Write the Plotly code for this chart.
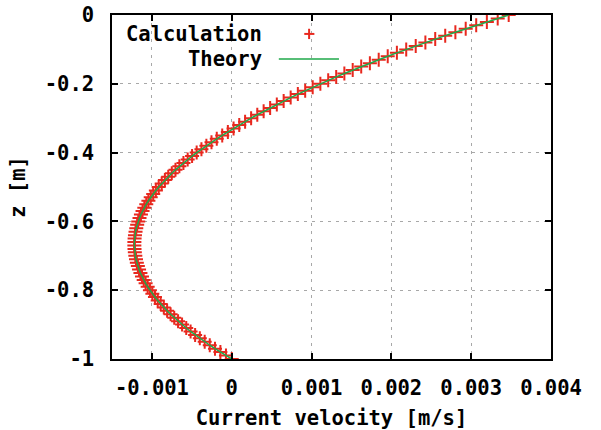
import plotly.graph_objects as go

# depth z [m] (surface = 0, bottom = -1)
depth = [
    0.00, -0.01, -0.02, -0.03, -0.04, -0.05, -0.06, -0.07, -0.08, -0.09,
    -0.10, -0.11, -0.12, -0.13, -0.14, -0.15, -0.16, -0.17, -0.18, -0.19,
    -0.20, -0.21, -0.22, -0.23, -0.24, -0.25, -0.26, -0.27, -0.28, -0.29,
    -0.30, -0.31, -0.32, -0.33, -0.34, -0.35, -0.36, -0.37, -0.38, -0.39,
    -0.40, -0.41, -0.42, -0.43, -0.44, -0.45, -0.46, -0.47, -0.48, -0.49,
    -0.50, -0.51, -0.52, -0.53, -0.54, -0.55, -0.56, -0.57, -0.58, -0.59,
    -0.60, -0.61, -0.62, -0.63, -0.64, -0.65, -0.66, -0.67, -0.68, -0.69,
    -0.70, -0.71, -0.72, -0.73, -0.74, -0.75, -0.76, -0.77, -0.78, -0.79,
    -0.80, -0.81, -0.82, -0.83, -0.84, -0.85, -0.86, -0.87, -0.88, -0.89,
    -0.90, -0.91, -0.92, -0.93, -0.94, -0.95, -0.96, -0.97, -0.98, -0.99,
    -1.00,
]

# current velocity [m/s]
velocity = [
    0.0034700, 0.0033322, 0.0031966, 0.0030630, 0.0029315, 0.0028020, 0.0026747, 0.0025494, 0.0024262, 0.0023051,
    0.0021861, 0.0020692, 0.0019543, 0.0018415, 0.0017308, 0.0016222, 0.0015157, 0.0014112, 0.0013089, 0.0012086,
    0.0011104, 0.0010143, 0.0009202, 0.0008283, 0.0007384, 0.0006506, 0.0005649, 0.0004813, 0.0003997, 0.0003203,
    0.0002429, 0.0001676, 0.0000944, 0.0000232, -0.0000483, -0.0001190, -0.0001874, -0.0002536, -0.0003177, -0.0003795,
    -0.0004392, -0.0004967, -0.0005519, -0.0006050, -0.0006559, -0.0007046, -0.0007510, -0.0007953, -0.0008374, -0.0008773,
    -0.0009150, -0.0009505, -0.0009838, -0.0010149, -0.0010438, -0.0010706, -0.0010951, -0.0011174, -0.0011375, -0.0011555,
    -0.0011712, -0.0011847, -0.0011961, -0.0012052, -0.0012122, -0.0012170, -0.0012195, -0.0012199, -0.0012180, -0.0012140,
    -0.0012078, -0.0011994, -0.0011888, -0.0011760, -0.0011610, -0.0011438, -0.0011244, -0.0011028, -0.0010790, -0.0010530,
    -0.0010248, -0.0009944, -0.0009618, -0.0009271, -0.0008901, -0.0008510, -0.0008096, -0.0007660, -0.0007203, -0.0006723,
    -0.0006222, -0.0005699, -0.0005153, -0.0004586, -0.0003997, -0.0003386, -0.0002752, -0.0002097, -0.0001420, -0.0000721,
    0.0000000,
]

x_tickvals = [-0.001, 0, 0.001, 0.002, 0.003, 0.004]
x_ticktext = ["-0.001", "0", "0.001", "0.002", "0.003", "0.004"]
y_tickvals = [0, -0.2, -0.4, -0.6, -0.8, -1]
y_ticktext = ["0", "-0.2", "-0.4", "-0.6", "-0.8", "-1"]

RED = "#e8281e"
GREEN = "#1fa84a"
FONT = dict(family="DejaVu Sans Mono", size=20.5, color="black", weight="bold")

fig = go.Figure()
fig.add_trace(go.Scatter(
    x=velocity, y=depth, mode="markers", name="Calculation",
    marker=dict(symbol="cross-thin", size=10, line=dict(color=RED, width=2)),
))
fig.add_trace(go.Scatter(
    x=velocity, y=depth, mode="lines", name="Theory",
    line=dict(color=GREEN, width=1.5),
))

axis_common = dict(
    showline=True, linecolor="black", linewidth=1.5, mirror="ticks",
    ticks="inside", ticklen=6, tickwidth=1.5, tickcolor="black",
    showgrid=True, gridcolor="#a8a8a8", gridwidth=1.2, griddash="3px,5px",
    zeroline=False, tickfont=FONT, automargin=False,
)

fig.update_xaxes(
    range=[-0.0015, 0.004], tickvals=x_tickvals, ticktext=x_ticktext,
    title=dict(text="Current velocity [m/s]", font=FONT, standoff=14),
    ticklabelstandoff=10,
    **axis_common,
)
fig.update_yaxes(
    range=[-1, 0], tickvals=y_tickvals, ticktext=y_ticktext,
    title=dict(text="z [m]", font=FONT, standoff=14),
    ticklabelstandoff=12,
    **axis_common,
)

# gnuplot-style legend (text on the left, sample on the right)
fig.add_annotation(xref="paper", yref="paper", x=0.346, y=0.945, text="Calculation",
                   showarrow=False, xanchor="right", yanchor="middle", font=FONT)
fig.add_annotation(xref="paper", yref="paper", x=0.346, y=0.872, text="Theory",
                   showarrow=False, xanchor="right", yanchor="middle", font=FONT)
fig.add_shape(type="line", xref="paper", yref="paper", x0=0.438, x1=0.461, y0=0.945, y1=0.945,
              line=dict(color=RED, width=2))
fig.add_shape(type="line", xref="paper", yref="paper", x0=0.449, x1=0.449, y0=0.930, y1=0.960,
              line=dict(color=RED, width=2))
fig.add_shape(type="line", xref="paper", yref="paper", x0=0.380, x1=0.517, y0=0.872, y1=0.872,
              line=dict(color=GREEN, width=1.5))

fig.update_layout(
    width=601, height=430,
    margin=dict(l=112, r=50, t=15, b=71),
    paper_bgcolor="white", plot_bgcolor="white",
    showlegend=False,
)

fig.write_html("out.html")
